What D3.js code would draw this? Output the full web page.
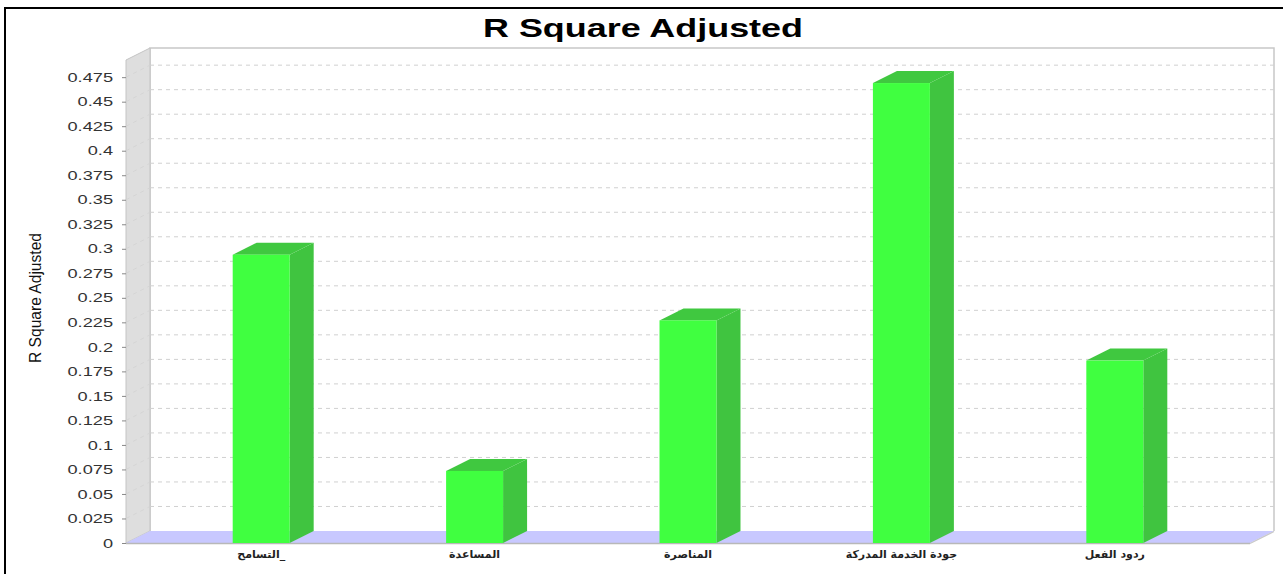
<!DOCTYPE html>
<html><head><meta charset="utf-8">
<script src="https://cdn.jsdelivr.net/npm/d3@7"></script>
<style>body{margin:0;background:#fff}svg{display:block}</style>
</head><body>
<svg id="c" width="1283" height="574"></svg>
<script>
const categories = ["التسامح_", "المساعدة", "المناصرة", "جودة الخدمة المدركة", "ردود الفعل"];
const values = [0.294, 0.0735, 0.227, 0.469, 0.186];
const yTicks = [0,0.025,0.05,0.075,0.1,0.125,0.15,0.175,0.2,0.225,0.25,0.275,0.3,0.325,0.35,0.375,0.4,0.425,0.45,0.475];
const yTickLabels = ["0","0.025","0.05","0.075","0.1","0.125","0.15","0.175","0.2","0.225","0.25","0.275","0.3","0.325","0.35","0.375","0.4","0.425","0.45","0.475"];
const title = "R Square Adjusted";
const yLabel = "R Square Adjusted";

const svg = d3.select("#c");
const L = 126, R = 1250, B = 543, T = 60, DX = 24, DY = 12;
const y = d3.scaleLinear().domain([0, 0.4925]).range([B, T]);
const x = d3.scaleBand().domain(categories).range([L, R]).paddingInner(0.733).paddingOuter(0.5);

// outer border
svg.append("rect").attr("x",5).attr("y",8).attr("width",1290).attr("height",580)
  .attr("fill","none").attr("stroke","#000").attr("stroke-width",2);

// back plane border
svg.append("path").attr("d",`M${L+DX},${B-DY} L${L+DX},${T-DY} L${R+DX},${T-DY} L${R+DX},${B-DY}`)
  .attr("fill","#fff").attr("stroke","#c8c8c8").attr("stroke-width",1.5);

// left wall
svg.append("path").attr("d",`M${L},${B} L${L},${T} L${L+DX},${T-DY} L${L+DX},${B-DY} Z`)
  .attr("fill","#dedede").attr("stroke","#c4c4c4").attr("stroke-width",1);

// gridlines on back plane + faint wall lines
yTicks.forEach(t => {
  if (t === 0) return;
  svg.append("line").attr("x1",L+DX).attr("x2",R+DX).attr("y1",y(t)-DY).attr("y2",y(t)-DY)
    .attr("stroke","#d0d0d0").attr("stroke-dasharray","4,4").attr("stroke-width",1);
  svg.append("line").attr("x1",L).attr("x2",L+DX).attr("y1",y(t)).attr("y2",y(t)-DY)
    .attr("stroke","#d2d2d2").attr("stroke-dasharray","4,4").attr("stroke-width",0.8);
});

// floor
svg.append("path").attr("d",`M${L},${B} L${L+DX},${B-DY} L${R+DX},${B-DY} L${R},${B} Z`)
  .attr("fill","#c8c8ff").attr("stroke","none");
svg.append("line").attr("x1",L).attr("x2",R).attr("y1",B+0.5).attr("y2",B+0.5).attr("stroke","#b8b8b8").attr("stroke-width",1.5);
svg.append("line").attr("x1",R).attr("x2",R+DX).attr("y1",B+0.5).attr("y2",B-DY+0.5).attr("stroke","#c8c8c8").attr("stroke-width",1.2);

// bars
const w = x.bandwidth();
const g = svg.append("g");
categories.forEach((c,i) => {
  const x0 = x(c), yt = y(values[i]);
  g.append("path").attr("d",`M${x0+w},${yt} L${x0+w+DX},${yt-DY} L${x0+w+DX},${B-DY} L${x0+w},${B} Z`).attr("fill","#40c440");
  g.append("path").attr("d",`M${x0},${yt} L${x0+DX},${yt-DY} L${x0+w+DX},${yt-DY} L${x0+w},${yt} Z`).attr("fill","#40c840");
  g.append("rect").attr("x",x0).attr("y",yt).attr("width",w).attr("height",B-yt).attr("fill","#40ff40");
});

// y axis
const yAxis = d3.axisLeft(y).tickValues(yTicks).tickFormat((d,i)=>yTickLabels[i]).tickSize(4).tickPadding(8);
const ya = svg.append("g").attr("transform",`translate(${L},0)`).call(yAxis);
ya.select(".domain").remove();
ya.selectAll(".tick line").attr("stroke","#888");
ya.selectAll("text").attr("font-family","Liberation Sans, Arial, sans-serif").attr("font-size",13).attr("fill","#333")
  .attr("x",0).attr("transform","translate(-13,0) scale(1.4,1)");

// x labels
const xAxis = d3.axisBottom(x).tickSize(0).tickPadding(7);
const xa = svg.append("g").attr("transform",`translate(0,${B})`).call(xAxis);
xa.select(".domain").remove();
xa.selectAll("text").attr("font-family","DejaVu Sans, sans-serif").attr("font-size",11).attr("fill","#222").attr("font-weight","bold");

// title
svg.append("text").attr("x",643).attr("y",37).attr("text-anchor","middle")
  .attr("font-family","Liberation Sans, Arial, sans-serif").attr("font-weight","bold").attr("font-size",26)
  .attr("textLength",320).attr("lengthAdjust","spacingAndGlyphs").text(title);

// y label
svg.append("text").attr("transform","translate(41,298) rotate(-90)").attr("text-anchor","middle")
  .attr("font-family","Liberation Sans Narrow, Liberation Sans, Arial, sans-serif").attr("font-size",17).attr("fill","#111")
  .attr("textLength",130).attr("lengthAdjust","spacingAndGlyphs")
  .text(yLabel);
</script>
</body></html>
